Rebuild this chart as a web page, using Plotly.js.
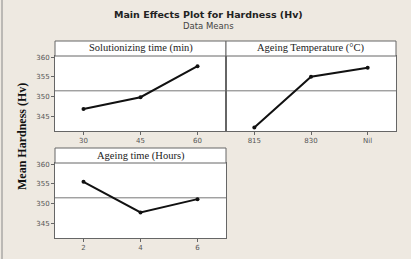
<!DOCTYPE html>
<html>
<head>
<meta charset="utf-8">
<script src="https://cdn.plot.ly/plotly-3.0.1.min.js"></script>
<style>
  html, body { margin: 0; padding: 0; background: #eee9e1; }
  #chart { width: 411px; height: 259px; }
</style>
</head>
<body>
<div id="chart"></div>
<script>
// Factor levels and mean hardness (Hv) for each factor
const solutionLevels = ['30', '45', '60'];
const solutionMeans  = [346.8, 349.8, 357.7];

const tempLevels = ['815', '830', 'Nil'];
const tempMeans  = [342.1, 355.0, 357.3];

const ageingLevels = ['2', '4', '6'];
const ageingMeans  = [355.5, 347.7, 351.1];

const panelTitles = ['Solutionizing time (min)', 'Ageing Temperature (°C)', 'Ageing time (Hours)'];
const yTicks = [345, 350, 355, 360];

// Grand mean across all observations (balanced design)
const grandMean = solutionMeans.reduce((a, b) => a + b, 0) / solutionMeans.length;

const W = 411, H = 259;
const px = v => v / W;          // horizontal pixel -> paper
const py = v => 1 - v / H;      // vertical pixel (from top) -> paper

// Panel geometry in pixels: [left, right, stripTop, plotTop, plotBottom]
const panels = [
  [55, 226, 41, 56, 131],
  [226, 396, 41, 56, 131],
  [55, 226, 148, 163, 238]
];

const lineStyle = { color: '#111', width: 2 };
const markerStyle = { color: '#111', size: 4 };

const series = [
  [solutionLevels, solutionMeans],
  [tempLevels, tempMeans],
  [ageingLevels, ageingMeans]
];

const traces = series.map((s, i) => ({
  type: 'scatter',
  mode: 'lines+markers',
  x: s[0],
  y: s[1],
  xaxis: i === 0 ? 'x' : 'x' + (i + 1),
  yaxis: i === 0 ? 'y' : 'y' + (i + 1),
  line: lineStyle,
  marker: markerStyle,
  showlegend: false,
  hoverinfo: 'x+y'
}));

const tickFont = { family: 'DejaVu Sans, sans-serif', size: 7, color: '#555' };

const layout = {
  width: W,
  height: H,
  margin: { l: 0, r: 0, t: 0, b: 0 },
  paper_bgcolor: '#eee9e1',
  plot_bgcolor: '#ffffff',
  showlegend: false,
  shapes: [],
  annotations: []
};

panels.forEach((p, i) => {
  const sfx = i === 0 ? '' : String(i + 1);
  const [l, r, st, pt, pb] = p;
  layout['xaxis' + sfx] = {
    domain: [px(l), px(r)],
    anchor: 'y' + sfx,
    type: 'category',
    range: [-0.5, 2.5],
    showline: true,
    linecolor: '#666',
    linewidth: 1,
    mirror: true,
    ticks: 'outside',
    ticklen: 3,
    tickcolor: '#666',
    tickfont: tickFont,
    showgrid: false,
    zeroline: false,
    fixedrange: true
  };
  layout['yaxis' + sfx] = {
    domain: [py(pb), py(pt)],
    anchor: 'x' + sfx,
    range: [341.2, 360.3],
    tickvals: yTicks,
    showticklabels: i !== 1,
    ticks: i !== 1 ? 'outside' : '',
    ticklen: 3,
    tickcolor: '#666',
    tickfont: tickFont,
    showline: true,
    linecolor: '#666',
    linewidth: 1,
    mirror: true,
    showgrid: false,
    zeroline: false,
    fixedrange: true
  };
  // grand mean reference line
  layout.shapes.push({
    type: 'line',
    xref: 'x' + sfx + ' domain', yref: 'y' + sfx,
    x0: 0, x1: 1, y0: grandMean, y1: grandMean,
    line: { color: '#777', width: 1 },
    layer: 'below'
  });
  // strip header box
  layout.shapes.push({
    type: 'rect',
    xref: 'paper', yref: 'paper',
    x0: px(l), x1: px(r), y0: py(pt), y1: py(st),
    fillcolor: '#ffffff',
    line: { color: '#666', width: 1 }
  });
  layout.annotations.push({
    xref: 'paper', yref: 'paper',
    x: px((l + r) / 2), y: py((st + pt) / 2),
    xanchor: 'center', yanchor: 'middle',
    text: panelTitles[i],
    showarrow: false,
    font: { family: 'Liberation Serif, serif', size: 10.5, color: '#222' }
  });
});

// left frame edge
layout.shapes.push({
  type: 'line', xref: 'paper', yref: 'paper',
  x0: px(2), x1: px(2), y0: 0, y1: 1,
  line: { color: '#888', width: 1 }
});

layout.annotations.push(
  {
    xref: 'paper', yref: 'paper',
    x: px(208), y: py(15),
    xanchor: 'center', yanchor: 'middle',
    text: '<b>Main Effects Plot for Hardness (Hv)</b>',
    showarrow: false,
    font: { family: 'DejaVu Sans, sans-serif', size: 9.5, color: '#222' }
  },
  {
    xref: 'paper', yref: 'paper',
    x: px(208), y: py(26),
    xanchor: 'center', yanchor: 'middle',
    text: 'Data Means',
    showarrow: false,
    font: { family: 'DejaVu Sans, sans-serif', size: 8.5, color: '#444' }
  },
  {
    xref: 'paper', yref: 'paper',
    x: px(22), y: py(137),
    xanchor: 'center', yanchor: 'middle',
    textangle: -90,
    text: '<b>Mean Hardness (Hv)</b>',
    showarrow: false,
    font: { family: 'Liberation Serif, serif', size: 12, color: '#111' }
  }
);

Plotly.newPlot('chart', traces, layout, { staticPlot: true, displayModeBar: false });
</script>
</body>
</html>
